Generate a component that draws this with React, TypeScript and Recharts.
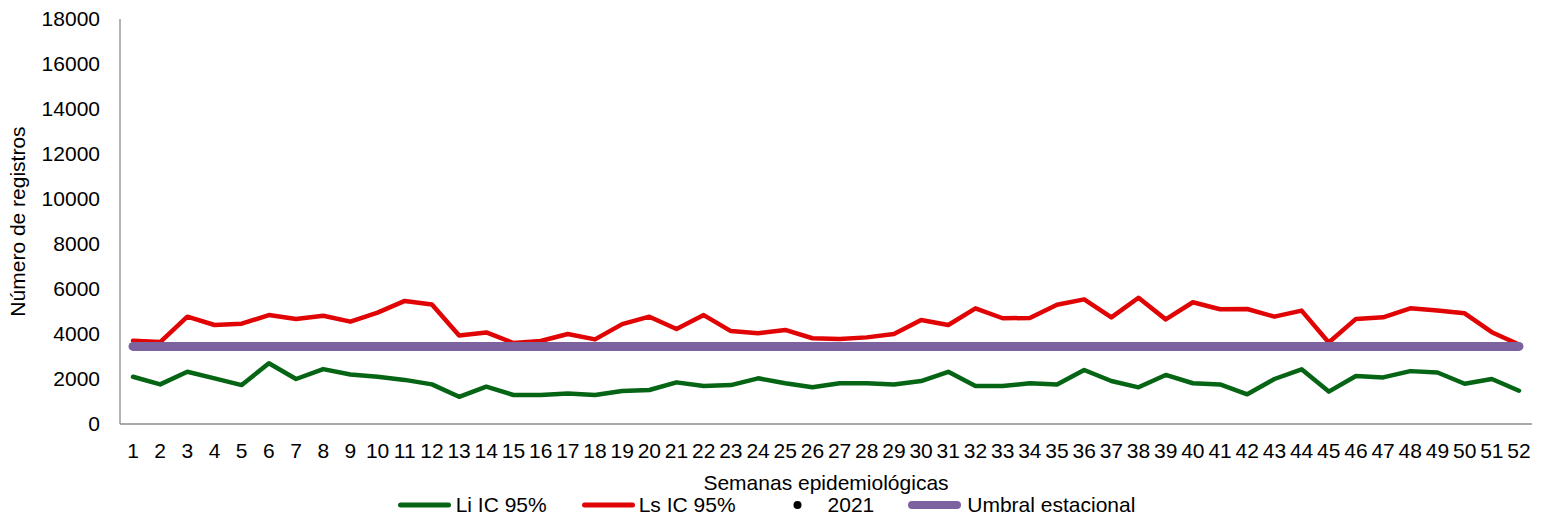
import React from 'react';
import { LineChart, Line, XAxis, YAxis, Legend } from 'recharts';

const weeks: string[] = [
  '1','2','3','4','5','6','7','8','9','10','11','12','13','14','15','16','17','18','19','20',
  '21','22','23','24','25','26','27','28','29','30','31','32','33','34','35','36','37','38','39','40',
  '41','42','43','44','45','46','47','48','49','50','51','52',
];

const liIC95: number[] = [
  2100, 1760, 2320, 2030, 1730, 2700, 2000, 2440, 2200, 2100,
  1960, 1760, 1210, 1660, 1290, 1290, 1360, 1290, 1470, 1510,
  1850, 1690, 1730, 2030, 1810, 1630, 1810, 1810, 1760, 1910,
  2320, 1690, 1690, 1810, 1760, 2400, 1910, 1630, 2180, 1810,
  1760, 1320, 2000, 2430, 1440, 2130, 2070, 2350, 2290, 1790,
  2000, 1480,
];

const lsIC95: number[] = [
  3700, 3640, 4770, 4400, 4460, 4840, 4670, 4810, 4550, 4950,
  5470, 5310, 3930, 4070, 3600, 3690, 4000, 3760, 4440, 4770,
  4220, 4840, 4130, 4030, 4180, 3810, 3780, 3850, 4000, 4620,
  4400, 5140, 4700, 4710, 5300, 5540, 4740, 5610, 4650, 5410,
  5100, 5110, 4770, 5040, 3620, 4670, 4740, 5140, 5040, 4920,
  4080, 3530,
];

const serie2021: (number | null)[] = [];

const umbralEstacional = 3450;

const yTicks: number[] = [0, 2000, 4000, 6000, 8000, 10000, 12000, 14000, 16000, 18000];

const legendLabels: string[] = ['Li IC 95%', 'Ls IC 95%', '2021', 'Umbral estacional'];

const data = weeks.map((w, i) => ({
  week: w,
  li: liIC95[i],
  ls: lsIC95[i],
  y2021: serie2021[i] ?? null,
  umbral: umbralEstacional,
}));

const GREEN = '#056514';
const RED = '#E00404';
const PURPLE = '#7D62A0';

const legendStyles = [
  { kind: 'line', color: GREEN, sw: 5, textWidthGap: 4, after: 34 },
  { kind: 'line', color: RED, sw: 5, textWidthGap: 3, after: 34 },
  { kind: 'dot', color: '#000', sw: 0, textWidthGap: 3, after: 33 },
  { kind: 'line', color: PURPLE, sw: 8, textWidthGap: 5, after: 0 },
];

const renderLegend = () => (
  <div
    style={{
      display: 'flex',
      justifyContent: 'center',
      alignItems: 'center',
      height: 24,
      fontSize: 21,
      color: '#000',
      whiteSpace: 'nowrap',
    }}
  >
    {legendLabels.map((label, i) => {
      const s = legendStyles[i];
      return (
        <div key={label} style={{ display: 'flex', alignItems: 'center', marginRight: s.after }}>
          <svg width={55} height={24} style={{ display: 'block' }}>
            {s.kind === 'line' ? (
              <line
                x1={s.sw / 2 + 1}
                y1={12}
                x2={55 - s.sw / 2 - 1}
                y2={12}
                stroke={s.color}
                strokeWidth={s.sw}
                strokeLinecap="round"
              />
            ) : (
              <circle cx={27.5} cy={12} r={4} fill={s.color} />
            )}
          </svg>
          <span style={{ marginLeft: s.textWidthGap, lineHeight: '24px' }}>{label}</span>
        </div>
      );
    })}
  </div>
);

export default function App() {
  return (
    <div
      style={{
        position: 'absolute',
        left: 0,
        top: 0,
        width: 1544,
        height: 517,
        background: '#fff',
        fontFamily: '"Liberation Sans", Arial, sans-serif',
      }}
    >
      <LineChart
        width={1544}
        height={517}
        data={data}
        margin={{ top: 19, right: 12, left: 0, bottom: 0 }}
      >
        <XAxis
          dataKey="week"
          interval={0}
          padding={{ left: 13, right: 13 }}
          tickLine={false}
          axisLine={{ stroke: '#8c8c8c', strokeWidth: 1.3 }}
          tick={{ fill: '#000', fontSize: 21 }}
          tickMargin={13}
          height={69}
          label={{
            value: 'Semanas epidemiológicas',
            position: 'insideBottom',
            offset: 3,
            fill: '#000',
            fontSize: 21,
          }}
        />
        <YAxis
          domain={[0, 18000]}
          ticks={yTicks}
          interval={0}
          tickLine={false}
          width={120}
          tickMargin={14}
          axisLine={{ stroke: '#8c8c8c', strokeWidth: 1.3 }}
          tick={{ fill: '#000', fontSize: 21 }}
          label={{
            value: 'Número de registros',
            angle: -90,
            position: 'insideLeft',
            offset: 18,
            fill: '#000',
            fontSize: 21,
            style: { textAnchor: 'middle' },
          }}
        />
        <Legend verticalAlign="bottom" height={24} content={renderLegend} />
        <Line
          dataKey="li"
          name="Li IC 95%"
          stroke={GREEN}
          strokeWidth={4.5}
          strokeLinejoin="round"
          strokeLinecap="round"
          dot={false}
          activeDot={false}
          isAnimationActive={false}
        />
        <Line
          dataKey="ls"
          name="Ls IC 95%"
          stroke={RED}
          strokeWidth={4.5}
          strokeLinejoin="round"
          strokeLinecap="round"
          dot={false}
          activeDot={false}
          isAnimationActive={false}
        />
        <Line
          dataKey="y2021"
          name="2021"
          stroke="none"
          dot={{ r: 4, fill: '#000', stroke: 'none' }}
          activeDot={false}
          isAnimationActive={false}
        />
        <Line
          dataKey="umbral"
          name="Umbral estacional"
          stroke={PURPLE}
          strokeWidth={9}
          strokeLinecap="round"
          dot={false}
          activeDot={false}
          isAnimationActive={false}
        />
      </LineChart>
    </div>
  );
}
